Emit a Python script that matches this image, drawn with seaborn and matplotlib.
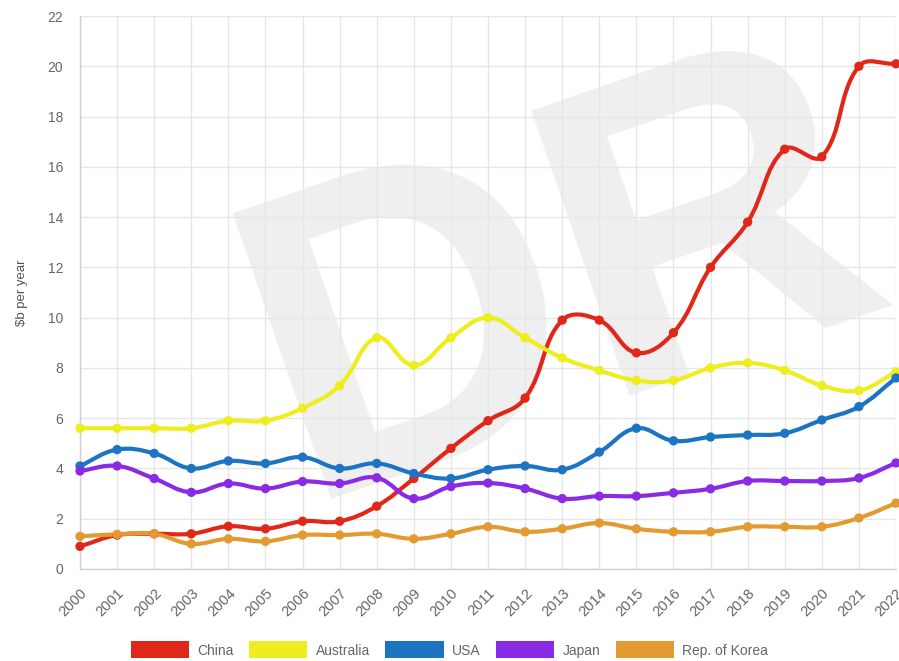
import numpy as np
import pandas as pd
import seaborn as sns
import matplotlib.pyplot as plt
from matplotlib.path import Path
from matplotlib.patches import PathPatch, Patch

years = list(range(2000, 2023))
countries = ['China', 'Australia', 'USA', 'Japan', 'Rep. of Korea']
colors = ['#e0281a', '#eded1f', '#1c74c2', '#8a2be4', '#e39a30']

china = [0.9, 1.35, 1.4, 1.4, 1.7, 1.6, 1.9, 1.9, 2.5, 3.6, 4.8, 5.9, 6.8,
         9.9, 9.9, 8.6, 9.4, 12.0, 13.8, 16.7, 16.4, 20.0, 20.1]
australia = [5.6, 5.6, 5.6, 5.6, 5.9, 5.9, 6.4, 7.3, 9.2, 8.1, 9.2, 10.0, 9.2,
             8.4, 7.9, 7.5, 7.5, 8.0, 8.2, 7.9, 7.3, 7.1, 7.85]
usa = [4.1, 4.75, 4.6, 4.0, 4.3, 4.2, 4.45, 4.0, 4.2, 3.8, 3.6, 3.95, 4.1,
       3.95, 4.65, 5.6, 5.1, 5.25, 5.33, 5.4, 5.93, 6.46, 7.6]
japan = [3.9, 4.1, 3.6, 3.05, 3.4, 3.2, 3.48, 3.4, 3.63, 2.8, 3.28, 3.42, 3.2,
         2.8, 2.9, 2.9, 3.03, 3.19, 3.5, 3.5, 3.5, 3.62, 4.22]
korea = [1.3, 1.38, 1.4, 1.0, 1.2, 1.1, 1.35, 1.35, 1.4, 1.2, 1.4, 1.68, 1.48,
         1.6, 1.83, 1.6, 1.48, 1.48, 1.68, 1.68, 1.68, 2.03, 2.62]
series = [china, australia, usa, japan, korea]

yticks = list(range(0, 23, 2))

df = pd.DataFrame({
    'year': years * len(countries),
    'value': sum(series, []),
    'country': sum([[c] * len(years) for c in countries], []),
})

sns.set_style("whitegrid")
plt.rcParams['font.family'] = ['Liberation Sans', 'DejaVu Sans']

fig = plt.figure(figsize=(8.99, 6.61), dpi=100)
ax = fig.add_axes([80 / 899, 92 / 661, 816 / 899, 553 / 661])
ax.set_xlim(2000, 2022)
ax.set_ylim(0, 22)
ax.set_axisbelow(True)

# watermark behind the grid
ax.text(0.336, 0.245, 'DRAFT', transform=fig.transFigure, fontsize=316,
        fontweight='bold', color='#efefef', rotation=19, rotation_mode='anchor',
        ha='left', va='baseline', zorder=0.2, clip_on=True,
        family='Liberation Sans')


def spline_path(xs, ys, sx=37.1, sy=25.14, t=0.4):
    # chart.js style bezier control points (computed in pixel-ish space)
    px = np.asarray(xs, float) * sx
    py = np.asarray(ys, float) * sy
    n = len(px)
    cp_prev = np.zeros((n, 2))
    cp_next = np.zeros((n, 2))
    for i in range(n):
        p0 = (px[max(i - 1, 0)], py[max(i - 1, 0)])
        p1 = (px[i], py[i])
        p2 = (px[min(i + 1, n - 1)], py[min(i + 1, n - 1)])
        d01 = np.hypot(p1[0] - p0[0], p1[1] - p0[1])
        d12 = np.hypot(p2[0] - p1[0], p2[1] - p1[1])
        s = d01 + d12
        s01 = d01 / s if s else 0
        s12 = d12 / s if s else 0
        dx, dy = p2[0] - p0[0], p2[1] - p0[1]
        cp_prev[i] = (p1[0] - t * s01 * dx, p1[1] - t * s01 * dy)
        cp_next[i] = (p1[0] + t * s12 * dx, p1[1] + t * s12 * dy)
    verts = [(px[0], py[0])]
    codes = [Path.MOVETO]
    for i in range(n - 1):
        verts += [tuple(cp_next[i]), tuple(cp_prev[i + 1]), (px[i + 1], py[i + 1])]
        codes += [Path.CURVE4] * 3
    verts = [(vx / sx, vy / sy) for vx, vy in verts]
    return Path(verts, codes)


for vals, col in zip(series, colors):
    ax.add_patch(PathPatch(spline_path(years, vals), facecolor='none',
                           edgecolor=col, lw=3, zorder=3, clip_on=False))

sns.scatterplot(data=df, x='year', y='value', hue='country', hue_order=countries,
                palette=colors, s=45, edgecolor='none', legend=False,
                ax=ax, zorder=4, clip_on=False)

ax.set_xticks(years)
ax.set_xticklabels([str(y) for y in years], rotation=45, ha='right',
                   rotation_mode='anchor')
ax.set_yticks(yticks)
ax.grid(True, color='#e6e6e6', lw=1)
ax.tick_params(axis='both', length=9, color='#e6e6e6', labelsize=10,
               labelcolor='#666666', pad=3)
ax.tick_params(axis='x', labelsize=10.5)
for side in ['top', 'right']:
    ax.spines[side].set_visible(False)
for side in ['left', 'bottom']:
    ax.spines[side].set_color('#d0d0d0')
    ax.spines[side].set_linewidth(1)
ax.set_xlabel('')
ax.set_ylabel('\\$b per year', fontsize=9.5, color='#555555', labelpad=14)

handles = [Patch(facecolor=c, edgecolor='none', label=n)
           for c, n in zip(colors, countries)]
fig.legend(handles=handles, loc='lower center', bbox_to_anchor=(0.5, -0.015),
           ncol=5, frameon=False, handlelength=4.2, handleheight=1.5,
           columnspacing=1.1, handletextpad=0.6, fontsize=10,
           labelcolor='#666666')

fig.savefig('out.png', dpi=100)
